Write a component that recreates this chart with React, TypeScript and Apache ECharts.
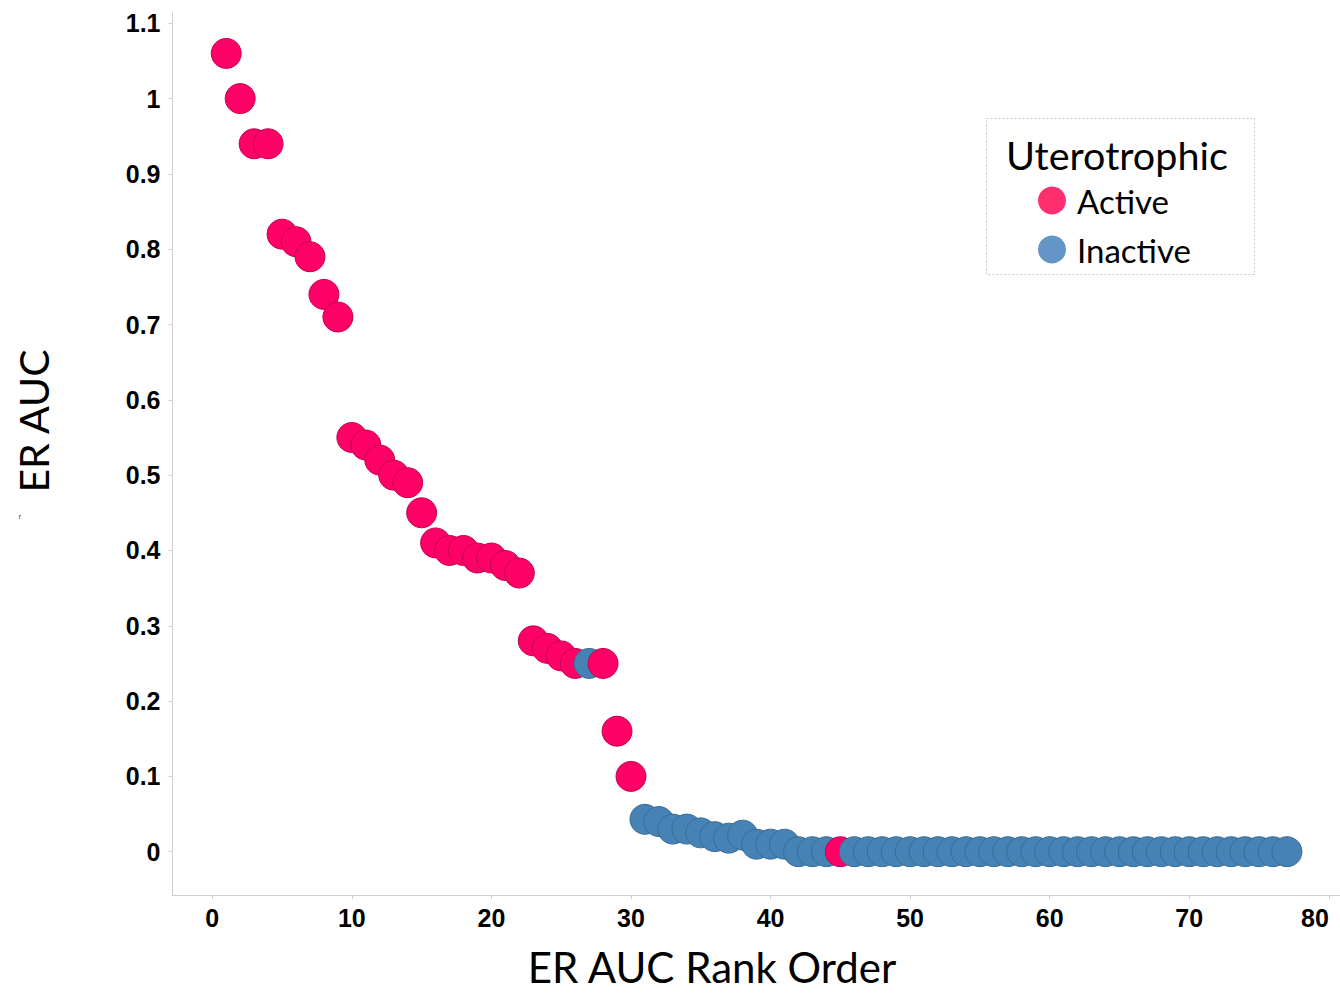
import React, { useEffect, useRef } from "react";
import * as echarts from "echarts";

const ranks = [
  1, 2, 3, 4, 5, 6, 7, 8, 9, 10, 11, 12, 13, 14, 15, 16, 17, 18, 19, 20,
  21, 22, 23, 24, 25, 26, 27, 28, 29, 30, 31, 32, 33, 34, 35, 36, 37, 38, 39, 40,
  41, 42, 43, 44, 45, 46, 47, 48, 49, 50, 51, 52, 53, 54, 55, 56, 57, 58, 59, 60,
  61, 62, 63, 64, 65, 66, 67, 68, 69, 70, 71, 72, 73, 74, 75, 76, 77,
];
const erAuc = [
  1.06, 1.0, 0.94, 0.94, 0.82, 0.81, 0.79, 0.74, 0.71, 0.55, 0.54, 0.52, 0.5, 0.49, 0.45, 0.41, 0.4, 0.4, 0.39, 0.39,
  0.38, 0.37, 0.28, 0.27, 0.26, 0.25, 0.25, 0.25, 0.16, 0.1, 0.043, 0.04, 0.03, 0.03, 0.025, 0.02, 0.018, 0.022, 0.01, 0.01,
  0.01, 0, 0, 0, 0, 0, 0, 0, 0, 0, 0, 0, 0, 0, 0, 0, 0, 0, 0, 0,
  0, 0, 0, 0, 0, 0, 0, 0, 0, 0, 0, 0, 0, 0, 0, 0, 0,
];
// 1 = Active, 0 = Inactive (uterotrophic)
const active = [
  1, 1, 1, 1, 1, 1, 1, 1, 1, 1, 1, 1, 1, 1, 1, 1, 1, 1, 1, 1,
  1, 1, 1, 1, 1, 1, 0, 1, 1, 1, 0, 0, 0, 0, 0, 0, 0, 0, 0, 0,
  0, 0, 0, 0, 1, 0, 0, 0, 0, 0, 0, 0, 0, 0, 0, 0, 0, 0, 0, 0,
  0, 0, 0, 0, 0, 0, 0, 0, 0, 0, 0, 0, 0, 0, 0, 0, 0,
];
const xTicks = [0, 10, 20, 30, 40, 50, 60, 70, 80];
const yTicks = [0, 0.1, 0.2, 0.3, 0.4, 0.5, 0.6, 0.7, 0.8, 0.9, 1, 1.1];
const legendTitle = "Uterotrophic";
const groupNames = ["Active", "Inactive"];
const xTitle = "ER AUC Rank Order";
const yTitle = "ER AUC";

const PINK = "#FF0066";
const PINK_BORDER = "#C4004E";
const BLUE = "#4682B4";
const BLUE_BORDER = "#386C99";
const LEGEND_PINK = "#FF2E6E";
const LEGEND_BLUE = "#6396C6";

export default function App() {
  const ref = useRef<HTMLDivElement>(null);
  useEffect(() => {
    if (!ref.current) return;
    const chart = echarts.init(ref.current, null, { renderer: "svg" });
    const points = ranks.map((r, i) => ({
      value: [r, erAuc[i]],
      itemStyle: active[i]
        ? { color: PINK, borderColor: PINK_BORDER, borderWidth: 1, opacity: 1 }
        : { color: BLUE, borderColor: BLUE_BORDER, borderWidth: 1, opacity: 1 },
    }));
    const axisLabelStyle = {
      color: "#000",
      fontFamily: "Liberation Sans, Arial, sans-serif",
      fontWeight: "bold" as const,
      fontSize: 25,
    };
    chart.setOption({
      animation: false,
      grid: { left: 172.5, right: 0, top: 12, bottom: 98, containLabel: false },
      xAxis: {
        type: "value",
        min: -2.85,
        max: 80.8,
        splitLine: { show: false },
        axisLine: { show: true, onZero: false, lineStyle: { color: "#cfcfcf", width: 1 } },
        axisTick: { show: true, length: 4, lineStyle: { color: "#cfcfcf" }, customValues: xTicks },
        axisLabel: {
          ...axisLabelStyle,
          margin: 10,
          customValues: xTicks,
          showMinLabel: true,
          showMaxLabel: true,
          alignMaxLabel: "right",
        },
      },
      yAxis: {
        type: "value",
        min: -0.0575,
        max: 1.115,
        splitLine: { show: false },
        axisLine: { show: true, onZero: false, lineStyle: { color: "#cfcfcf", width: 1 } },
        axisTick: { show: true, length: 4, lineStyle: { color: "#cfcfcf" }, customValues: yTicks },
        axisLabel: {
          ...axisLabelStyle,
          margin: 12,
          customValues: yTicks,
          formatter: (v: number) => String(Math.round(v * 10) / 10),
        },
      },
      legend: {
        orient: "vertical",
        left: 1038,
        top: 184,
        itemWidth: 28,
        itemHeight: 28,
        itemGap: 16,
        padding: 0,
        icon: "circle",
        data: [
          { name: groupNames[0], itemStyle: { color: LEGEND_PINK, borderWidth: 0, opacity: 1 } },
          { name: groupNames[1], itemStyle: { color: LEGEND_BLUE, borderWidth: 0, opacity: 1 } },
        ],
        textStyle: {
          fontFamily: "Lato, sans-serif",
          fontSize: 33,
          color: "#000",
          lineHeight: 28,
          padding: [0, 0, 0, 6],
        },
      },
      graphic: [
        {
          type: "rect",
          shape: { x: 986.5, y: 118.5, width: 268, height: 156 },
          style: { fill: "none", stroke: "#c8c8c8", lineWidth: 1, lineDash: [2, 2] },
          silent: true,
        },
        {
          type: "text",
          x: 1006,
          y: 154,
          style: {
            text: legendTitle,
            fontFamily: "Lato, sans-serif",
            fontSize: 39.5,
            fill: "#000",
            verticalAlign: "middle",
          },
        },
        {
          type: "text",
          x: 33,
          y: 421,
          rotation: Math.PI / 2,
          style: {
            text: yTitle,
            fontFamily: "Lato, sans-serif",
            fontSize: 41,
            fill: "#000",
            align: "center",
            verticalAlign: "middle",
          },
        },
        {
          type: "text",
          x: 712,
          y: 967,
          style: {
            text: xTitle,
            fontFamily: "Lato, sans-serif",
            fontSize: 42,
            lineHeight: 40,
            fill: "#000",
            align: "center",
            verticalAlign: "middle",
          },
        },
        {
          type: "text",
          x: 20,
          y: 516,
          style: { text: "r", fontFamily: "Liberation Sans, sans-serif", fontSize: 7, fill: "#333", align: "center", verticalAlign: "middle" },
        },
      ],
      series: [
        {
          name: "points",
          type: "scatter",
          symbol: "circle",
          symbolSize: 30,
          data: points,
          itemStyle: { opacity: 1 },
          z: 2,
        },
        { name: groupNames[0], type: "scatter", data: [], itemStyle: { color: LEGEND_PINK, opacity: 1 } },
        { name: groupNames[1], type: "scatter", data: [], itemStyle: { color: LEGEND_BLUE, opacity: 1 } },
      ],
    });
    return () => chart.dispose();
  }, []);
  return (
    <div
      ref={ref}
      style={{ position: "absolute", left: 0, top: 0, width: 1340, height: 993, background: "#fff" }}
    />
  );
}
